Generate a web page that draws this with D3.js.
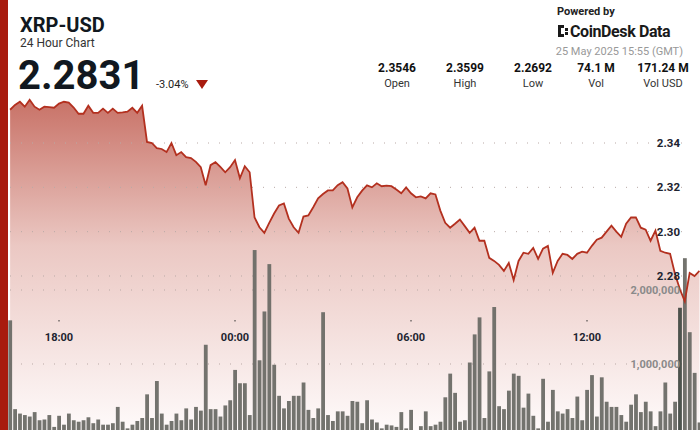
<!DOCTYPE html>
<html><head><meta charset="utf-8">
<script src="https://cdn.jsdelivr.net/npm/d3@7"></script>
<style>body{margin:0;background:#fff}svg{display:block;font-family:Roboto,"Noto Sans",sans-serif}</style>
</head><body><svg id="c" width="700" height="430"></svg>
<script>
const startTime = "2025-05-24T16:20:00Z";
const stepMinutes = 10;
const prices = [2.3550,2.3572,2.3586,2.3564,2.3595,2.3564,2.3550,2.3564,2.3562,2.3559,2.3578,2.3586,2.3582,2.3560,2.3532,2.3532,2.3568,2.3536,2.3536,2.3555,2.3536,2.3555,2.3536,2.3538,2.3541,2.3559,2.3536,2.3568,2.3405,2.3400,2.3377,2.3373,2.3359,2.3400,2.3345,2.3359,2.3336,2.3332,2.3315,2.3291,2.3209,2.3300,2.3314,2.3292,2.3268,2.3291,2.3323,2.3241,2.3295,2.3268,2.3064,2.3020,2.2995,2.3040,2.3082,2.3118,2.3127,2.3059,2.3020,2.2995,2.3068,2.3073,2.3110,2.3150,2.3170,2.3186,2.3186,2.3210,2.3223,2.3195,2.3109,2.3155,2.3185,2.3209,2.3200,2.3218,2.3205,2.3208,2.3205,2.3190,2.3173,2.3200,2.3173,2.3155,2.3159,2.3150,2.3173,2.3168,2.3095,2.3040,2.3018,2.3036,2.3055,2.3025,2.2995,2.3018,2.2959,2.2959,2.2882,2.2868,2.2850,2.2823,2.2859,2.2782,2.2868,2.2905,2.2900,2.2927,2.2877,2.2923,2.2936,2.2814,2.2868,2.2900,2.2895,2.2877,2.2900,2.2910,2.2905,2.2936,2.2964,2.2973,2.3000,2.3027,2.3000,2.2977,2.3036,2.3064,2.3064,2.3018,2.3009,2.2959,2.3005,2.2914,2.2905,2.2900,2.2809,2.2740,2.2686,2.2814,2.2800,2.2823];
const volumesM = [1.59,0.39,0.33,0.31,0.29,0.35,0.24,0.25,0.31,0.15,0.30,0.18,0.33,0.24,0.22,0.24,0.28,0.20,0.25,0.18,0.18,0.20,0.42,0.22,0.13,0.18,0.23,0.27,0.59,0.27,0.77,0.33,0.18,0.23,0.33,0.24,0.40,0.25,0.42,0.37,1.26,0.39,0.39,0.29,0.44,0.51,0.92,0.74,0.74,0.31,2.54,1.05,1.71,2.35,0.99,0.57,0.40,0.50,0.57,0.57,0.75,0.38,0.27,0.40,1.70,0.31,0.23,0.36,0.36,0.30,
0.50,0.49,0.20,0.51,0.25,0.21,0.13,0.18,0.17,0.15,0.35,0.13,0.38,0.06,0.16,0.36,0.16,0.18,0.22,0.55,0.87,0.61,0.22,0.24,1.02,1.40,1.63,0.27,0.90,1.77,0.43,0.39,0.64,0.87,0.84,0.41,0.60,0.30,0.13,0.80,0.22,0.65,0.36,0.33,0.39,0.27,0.56,0.24,0.65,0.85,0.29,0.82,0.49,0.42,0.42,0.31,0.22,0.45,0.59,0.35,0.49,0.36,0.16,0.36,0.75,0.33,0.49,1.76,2.43,1.43,0.88,0.21];
const priceTicks = [2.28,2.30,2.32,2.34];
const volumeTicks = [1000000,2000000];
const timeTicks = ["2025-05-24T18:00:00Z","2025-05-25T00:00:00Z","2025-05-25T06:00:00Z","2025-05-25T12:00:00Z"];
const statValues = ["2.3546","2.3599","2.2692","74.1 M","171.24 M"];
const statLabels = ["Open","High","Low","Vol","Vol USD"];

const svg = d3.select("#c");
const t0 = new Date(startTime);
const times = prices.map((_,i)=>new Date(+t0 + i*stepMinutes*60000));
const x = d3.scaleUtc().domain([new Date("2025-05-24T18:00:00Z"),new Date("2025-05-25T12:00:00Z")]).range([59,587]);
const y = d3.scaleLinear().domain([2.28,2.34]).range([276,143]);
const yv = d3.scaleLinear().domain([0,2000000]).range([438,290]);

const defs = svg.append("defs");
const g = defs.append("linearGradient").attr("id","gr").attr("gradientUnits","userSpaceOnUse").attr("x1",0).attr("x2",0).attr("y1",95).attr("y2",430);
g.append("stop").attr("offset","0%").attr("stop-color","#c76f64");
g.append("stop").attr("offset","45%").attr("stop-color","#ebc8c3");
g.append("stop").attr("offset","100%").attr("stop-color","#fefafa");
const area = d3.area().x((d,i)=>x(times[i])).y0(430).y1(d=>y(d));
svg.append("path").datum(prices).attr("d",area).attr("fill","url(#gr)");

[...priceTicks.map(v=>y(v)),...volumeTicks.map(v=>yv(v))].forEach(py=>{
  svg.append("line").attr("x1",10).attr("x2",690).attr("y1",py).attr("y2",py)
   .attr("stroke","#b9a9a6").attr("stroke-width",1).attr("stroke-dasharray","1,10");
});

svg.append("g").selectAll("rect").data(volumesM).join("rect")
  .attr("x",(d,i)=>x(times[i])-1.8).attr("width",3.8)
  .attr("y",d=>yv(d*1e6)).attr("height",d=>438-yv(d*1e6))
  .attr("fill",(d,i)=>i===137?"#434b45":"#6c6c66").attr("opacity",0.95);

svg.append("path").datum(prices).attr("d",d3.line().x((d,i)=>x(times[i])).y(d=>y(d)))
  .attr("fill","none").attr("stroke","#b3301f").attr("stroke-width",1.8);

priceTicks.forEach(v=>svg.append("text").attr("x",680).attr("y",y(v)+4).attr("text-anchor","end")
  .attr("font-size",11.5).attr("font-weight","bold").attr("fill","#1e2430").text(v.toFixed(2)));
volumeTicks.forEach(v=>svg.append("text").attr("x",680).attr("y",yv(v)+4).attr("text-anchor","end")
  .attr("font-size",11).attr("font-weight","bold").attr("fill","#8a8a8a").text(d3.format(",")(v)));
timeTicks.forEach(t=>{const px=x(new Date(t));
  svg.append("rect").attr("x",px-0.5).attr("y",320).attr("width",1).attr("height",1.5).attr("fill","#333");
  svg.append("text").attr("x",px).attr("y",341).attr("text-anchor","middle").attr("font-size",11)
   .attr("font-weight","bold").attr("fill","#1e2430").text(d3.utcFormat("%H:%M")(new Date(t)));});

svg.append("rect").attr("x",0).attr("y",0).attr("width",8).attr("height",430).attr("fill","#a81b0e");

svg.append("text").attr("x",20).attr("y",32).attr("font-size",20).attr("font-weight","bold").attr("fill","#111820").text("XRP-USD");
svg.append("text").attr("x",20).attr("y",47).attr("font-size",12).attr("fill","#333").text("24 Hour Chart");
svg.append("text").attr("x",18).attr("y",89).attr("font-size",40).attr("font-weight","bold").attr("fill","#111820").text("2.2831");
svg.append("text").attr("x",156).attr("y",88).attr("font-size",11).attr("fill","#222").text("-3.04%");
svg.append("path").attr("d","M196,80 L208,80 L202,89 Z").attr("fill","#a81b0e");
const sx=[397,465,533,596,663];
statValues.forEach((v,i)=>{
  svg.append("text").attr("x",sx[i]).attr("y",72).attr("text-anchor","middle").attr("font-size",12).attr("font-weight","bold").attr("fill","#111").text(v);
  svg.append("text").attr("x",sx[i]).attr("y",87).attr("text-anchor","middle").attr("font-size",11).attr("fill","#333").text(statLabels[i]);
});
svg.append("text").attr("x",557).attr("y",15).attr("font-size",11).attr("font-weight","bold").attr("fill","#222").text("Powered by");
const lg=svg.append("g").attr("fill","#1a1a1a");
[[558,25,3,12],[558,25,6,3],[558,34,6,3],[565,28,3,3],[565,32,3,3]].forEach(r=>lg.append("rect").attr("x",r[0]).attr("y",r[1]).attr("width",r[2]).attr("height",r[3]));
svg.append("text").attr("x",570).attr("y",37).attr("font-size",16).attr("font-weight","bold").attr("fill","#1a1a1a").attr("letter-spacing",-0.4).text("CoinDesk Data");
svg.append("text").attr("x",683).attr("y",55).attr("text-anchor","end").attr("font-size",11).attr("fill","#999").text("25 May 2025 15:55 (GMT)");
</script></body></html>
